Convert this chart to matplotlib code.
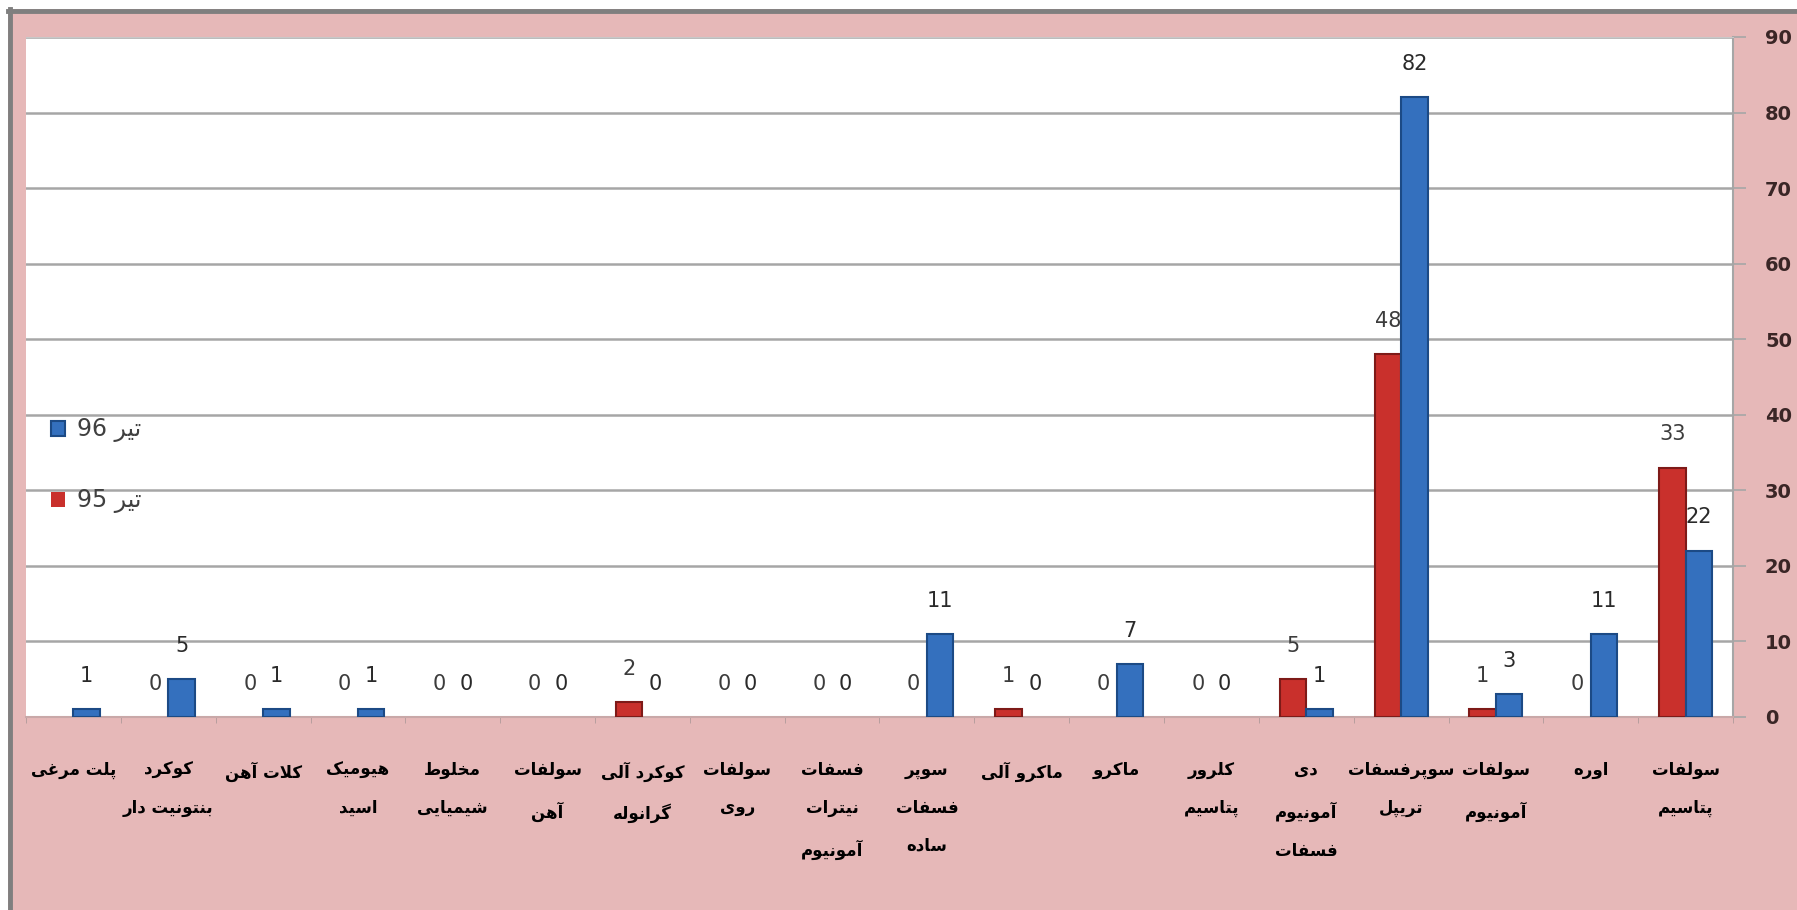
import re
import numpy as np
import matplotlib
matplotlib.use("Agg")
import matplotlib.pyplot as plt
from matplotlib.patches import Rectangle
from matplotlib.lines import Line2D

# ── data (left to right as drawn) ─────────────────────────────────────────────
categories = [
    "پلت مرغی",
    "کوکرد\nبنتونیت دار",
    "کلات آهن",
    "هیومیک\nاسید",
    "مخلوط\nشیمیایی",
    "سولفات\nآهن",
    "کوکرد آلی\nگرانوله",
    "سولفات\nروی",
    "فسفات\nنیترات\nآمونیوم",
    "سوپر\nفسفات\nساده",
    "ماکرو آلی",
    "ماکرو",
    "کلرور\nپتاسیم",
    "دی\nآمونیوم\nفسفات",
    "سوپرفسفات\nتریپل",
    "سولفات\nآمونیوم",
    "اوره",
    "سولفات\nپتاسیم",
]
tir95 = [np.nan, 0, 0, 0, 0, 0, 2, 0, 0, 0, 1, 0, 0, 5, 48, 1, 0, 33]
tir96 = [1, 5, 1, 1, 0, 0, 0, 0, 0, 11, 0, 7, 0, 1, 82, 3, 11, 22]
label95 = "تیر 95"
label96 = "تیر 96"
yticks = [0, 10, 20, 30, 40, 50, 60, 70, 80, 90]

# ── minimal Persian shaping (matplotlib has no text shaping) ──────────────────
_four = {  # dual-joining: iso, fin, ini, med
    "ب": 0xFE8F, "ت": 0xFE95, "ث": 0xFE99, "ج": 0xFE9D, "ح": 0xFEA1,
    "خ": 0xFEA5, "س": 0xFEB1, "ش": 0xFEB5, "ص": 0xFEB9, "ض": 0xFEBD,
    "ط": 0xFEC1, "ظ": 0xFEC5, "ع": 0xFEC9, "غ": 0xFECD, "ف": 0xFED1,
    "ق": 0xFED5, "ل": 0xFEDD, "م": 0xFEE1, "ن": 0xFEE5, "ه": 0xFEE9,
    "ي": 0xFEF1, "پ": 0xFB56, "چ": 0xFB7A, "ک": 0xFB8E, "گ": 0xFB92,
    "ی": 0xFBFC,
}
_two = {  # right-joining: iso, fin
    "ا": 0xFE8D, "آ": 0xFE81, "د": 0xFEA9, "ذ": 0xFEAB, "ر": 0xFEAD,
    "ز": 0xFEAF, "ژ": 0xFB8A, "و": 0xFEED,
}
_lam_alef = {"ا": 0xFEFB, "آ": 0xFEF5}


def _shape(line):
    toks, i = [], 0
    while i < len(line):
        if line[i] == "ل" and i + 1 < len(line) and line[i + 1] in _lam_alef:
            toks.append(("LA", line[i + 1]))
            i += 2
        else:
            toks.append(line[i])
            i += 1

    def j_next(t):
        return isinstance(t, str) and t in _four

    def j_prev(t):
        return isinstance(t, tuple) or t in _four or t in _two

    out = []
    for k, t in enumerate(toks):
        p = k > 0 and j_next(toks[k - 1]) and j_prev(t)
        n = k < len(toks) - 1 and j_next(t) and j_prev(toks[k + 1])
        if isinstance(t, tuple):
            out.append(chr(_lam_alef[t[1]] + (1 if p else 0)))
        elif t in _four:
            form = 3 if (p and n) else 1 if p else 2 if n else 0
            out.append(chr(_four[t] + form))
        elif t in _two:
            out.append(chr(_two[t] + (1 if p else 0)))
        else:
            out.append(t)
    return "".join(out)


def fa(text):
    lines = []
    for line in text.split("\n"):
        runs = re.findall(r"\d+|\D+", _shape(line))
        lines.append("".join(r if r.isdigit() else r[::-1] for r in reversed(runs)))
    return "\n".join(lines)


# ── colours ───────────────────────────────────────────────────────────────────
PINK = "#E6B8B8"
RED, RED_EDGE = "#C9302C", "#7E1A18"
BLUE, BLUE_EDGE = "#3470BE", "#1C4A85"
GRID = "#A6A6A6"

plt.rcParams["font.family"] = ["DejaVu Sans"]

fig = plt.figure(figsize=(17.97, 9.10), dpi=100, facecolor=PINK)
ax = fig.add_axes([26 / 1797, 1 - 717 / 910, (1733 - 26) / 1797, (717 - 37) / 910])
ax.set_facecolor("white")

# outer frame: white margin + gray line on left and top
W, H = 1797, 910
fig.add_artist(Rectangle((0, 0), 8 / W, 1, transform=fig.transFigure,
                         facecolor="white", edgecolor="none", zorder=-1))
fig.add_artist(Rectangle((0, 1 - 9 / H), 1, 9 / H, transform=fig.transFigure,
                         facecolor="white", edgecolor="none", zorder=-1))
fig.add_artist(Line2D([10 / W, 10 / W], [0, 1 - 9 / H], transform=fig.transFigure,
                      color="#7F7F7F", linewidth=3.5))
fig.add_artist(Line2D([8 / W, 1], [1 - 11 / H, 1 - 11 / H], transform=fig.transFigure,
                      color="#7F7F7F", linewidth=3.5))

x = np.arange(len(categories))
w = 0.28
v95 = np.array(tir95, dtype=float)
v96 = np.array(tir96, dtype=float)
lw95 = np.where(np.nan_to_num(v95) > 0, 1.5, 0)
lw96 = np.where(v96 > 0, 1.5, 0)

b95 = ax.bar(x - w / 2, np.nan_to_num(v95), w, color=RED, edgecolor=RED_EDGE,
             linewidth=lw95, zorder=3, label=fa(label95))
b96 = ax.bar(x + w / 2, v96, w, color=BLUE, edgecolor=BLUE_EDGE,
             linewidth=lw96, zorder=3, label=fa(label96))

for xi, v in zip(x - w / 2, v95):
    if not np.isnan(v):
        ax.annotate(f"{int(v)}", (xi, v), xytext=(0, 24), textcoords="offset points",
                    ha="center", va="center", fontsize=15, color="#3C3C3C", zorder=4)
for xi, v in zip(x + w / 2, v96):
    ax.annotate(f"{int(v)}", (xi, v), xytext=(0, 24), textcoords="offset points",
                ha="center", va="center", fontsize=15, color="#2A2A2A", zorder=4)

ax.set_xlim(-0.5, len(categories) - 0.5)
ax.set_ylim(0, 90)
ax.set_yticks(yticks)
ax.yaxis.tick_right()
ax.tick_params(axis="y", length=9, width=1.2, color=GRID, pad=14,
               labelsize=14, labelcolor="#3A2626")
for lbl in ax.get_yticklabels():
    lbl.set_fontweight("bold")
ax.yaxis.grid(True, color=GRID, linewidth=1.8, zorder=0)
ax.set_axisbelow(True)

ax.set_xticks(x)
ax.set_xticklabels([fa(c) for c in categories], fontsize=12, fontweight="bold",
                   color="black", linespacing=2.4)
ax.tick_params(axis="x", length=0, pad=32)
ax.set_xticks(np.arange(-0.5, len(categories), 1), minor=True)
ax.tick_params(axis="x", which="minor", length=4, color="#B09A9A", direction="out")

ax.spines["left"].set_visible(False)
ax.spines["top"].set_color("#C8C8C8")
ax.spines["right"].set_color(GRID)
ax.spines["right"].set_linewidth(1.5)
ax.spines["bottom"].set_color("#C9A8A8")
ax.spines["bottom"].set_linewidth(1.5)

leg = ax.legend(handles=[b96, b95], loc="center left", bbox_to_anchor=(0.002, 0.37),
                frameon=False, fontsize=17, labelcolor="#404040",
                handlelength=0.6, handleheight=0.6, handletextpad=0.5,
                labelspacing=1.95)

fig.savefig("out.png", dpi=100, facecolor=PINK)
